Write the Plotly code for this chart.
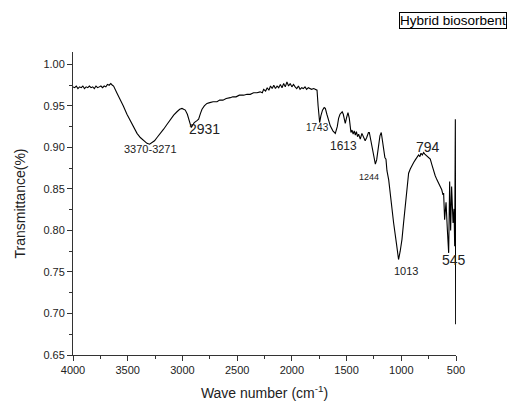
import plotly.graph_objects as go

wavenumber = [4000, 3985, 3970, 3955, 3940, 3925, 3910, 3895, 3880, 3865, 3850, 3835, 3820, 3805, 3790,
              3775, 3760, 3745, 3730, 3715, 3700, 3685, 3670, 3655, 3640, 3629, 3600, 3568, 3540, 3507,
              3475, 3446, 3415, 3385, 3355, 3324, 3300, 3278, 3255, 3232, 3200, 3172, 3140, 3111, 3080,
              3050, 3025, 3004, 2985, 2974, 2955, 2944, 2930, 2919, 2905, 2892, 2870, 2852, 2835, 2821,
              2800, 2776, 2750, 2720, 2684, 2660, 2630, 2600, 2563, 2540, 2510, 2480, 2441, 2410, 2380,
              2350, 2319, 2290, 2270, 2258, 2240, 2225, 2210, 2195, 2180, 2165, 2150, 2135, 2120, 2105,
              2090, 2075, 2060, 2045, 2030, 2015, 2000, 1985, 1970, 1955, 1940, 1925, 1910, 1895, 1880,
              1865, 1850, 1835, 1820, 1800, 1785, 1770, 1760, 1746, 1735, 1720, 1705, 1694, 1680, 1665,
              1649, 1625, 1603, 1585, 1573, 1560, 1551, 1540, 1530, 1520, 1512, 1500, 1487, 1475, 1460,
              1450, 1440, 1430, 1420, 1410, 1400, 1390, 1375, 1360, 1344, 1330, 1316, 1300, 1292, 1280,
              1265, 1250, 1237, 1225, 1210, 1195, 1183, 1170, 1160, 1150, 1140, 1131, 1115, 1100, 1085,
              1070, 1045, 1025, 1010, 994, 980, 963, 948, 933, 918, 902, 887, 872, 857, 842,
              830, 820, 808, 796, 785, 775, 765, 750, 735, 720, 704, 690, 674, 660, 643,
              630, 619, 613, 604, 591, 579, 567, 558, 549, 540, 527, 518, 512, 506, 503]

transmittance = [0.973, 0.972, 0.974, 0.971, 0.973, 0.972, 0.974, 0.971, 0.973, 0.972, 0.974, 0.972, 0.973, 0.971, 0.974,
                 0.972, 0.973, 0.974, 0.972, 0.974, 0.973, 0.976, 0.975, 0.977, 0.975, 0.974, 0.966, 0.958, 0.950, 0.940,
                 0.932, 0.924, 0.917, 0.912, 0.908, 0.905, 0.904, 0.906, 0.908, 0.912, 0.917, 0.922, 0.928, 0.934, 0.939,
                 0.943, 0.946, 0.947, 0.946, 0.945, 0.940, 0.934, 0.928, 0.924, 0.927, 0.930, 0.932, 0.934, 0.941, 0.946,
                 0.950, 0.953, 0.954, 0.955, 0.955, 0.957, 0.957, 0.959, 0.960, 0.961, 0.961, 0.963, 0.963, 0.964, 0.964,
                 0.966, 0.966, 0.967, 0.966, 0.970, 0.968, 0.972, 0.969, 0.974, 0.971, 0.975, 0.971, 0.974, 0.972, 0.976,
                 0.972, 0.977, 0.973, 0.979, 0.974, 0.977, 0.973, 0.976, 0.973, 0.971, 0.974, 0.970, 0.972, 0.971, 0.973,
                 0.970, 0.972, 0.971, 0.970, 0.971, 0.970, 0.969, 0.950, 0.930, 0.938, 0.945, 0.948, 0.947, 0.940, 0.932,
                 0.926, 0.920, 0.917, 0.925, 0.935, 0.940, 0.942, 0.943, 0.940, 0.935, 0.929, 0.936, 0.942, 0.935, 0.918,
                 0.921, 0.916, 0.920, 0.915, 0.919, 0.913, 0.916, 0.910, 0.917, 0.912, 0.908, 0.912, 0.918, 0.918, 0.910,
                 0.898, 0.886, 0.880, 0.885, 0.900, 0.914, 0.918, 0.905, 0.893, 0.888, 0.886, 0.872, 0.861, 0.841, 0.826,
                 0.809, 0.785, 0.765, 0.775, 0.789, 0.808, 0.829, 0.850, 0.869, 0.874, 0.879, 0.882, 0.885, 0.888, 0.891,
                 0.889, 0.893, 0.891, 0.894, 0.892, 0.891, 0.890, 0.888, 0.886, 0.879, 0.871, 0.866, 0.861, 0.857, 0.853,
                 0.849, 0.843, 0.845, 0.813, 0.834, 0.801, 0.773, 0.859, 0.800, 0.853, 0.809, 0.826, 0.781, 0.934, 0.687]

peak_labels = ["3370-3271", "2931", "1743", "1613", "1244", "794", "1013", "545"]
peak_label_x = [3293, 2800, 1770, 1530, 1292, 758, 956, 517]
peak_label_y = [0.898, 0.922, 0.924, 0.902, 0.865, 0.900, 0.751, 0.764]
peak_label_size = [11, 14, 10, 12, 9, 14, 11, 14]

legend_text = "Hybrid biosorbent"

FONT = "Arial, Liberation Sans, sans-serif"

fig = go.Figure()
fig.add_trace(go.Scatter(x=wavenumber, y=transmittance, mode="lines",
                         line=dict(color="black", width=1.1), showlegend=False))

for txt, xv, yv, sz in zip(peak_labels, peak_label_x, peak_label_y, peak_label_size):
    fig.add_annotation(x=xv, y=yv, xref="x", yref="y", text=txt, showarrow=False,
                       font=dict(family=FONT, size=sz, color="#222"))

fig.add_annotation(x=1.0, y=1.0, xref="paper", yref="paper", xanchor="right", yanchor="bottom",
                   xshift=51, yshift=23, text=legend_text, showarrow=False,
                   font=dict(family=FONT, size=13.5, color="black"),
                   bordercolor="black", borderwidth=1, borderpad=0, bgcolor="white")

axis_common = dict(showline=True, linecolor="#333", linewidth=1, showgrid=False, zeroline=False,
                   ticks="outside", ticklen=5, tickcolor="#333", tickwidth=1,
                   tickfont=dict(family=FONT, size=11, color="#222"),
                   mirror=False, automargin=False)

fig.update_xaxes(range=[4000, 500], dtick=500, tick0=500,
                 minor=dict(dtick=250, ticks="outside", ticklen=3, tickcolor="#333"),
                 title=dict(text="Wave number (cm<sup>-1</sup>)", font=dict(family=FONT, size=14, color="#222"),
                            standoff=12),
                 **axis_common)
fig.update_yaxes(range=[0.65, 1.015], dtick=0.05, tick0=0.65, tickformat=".2f",
                 minor=dict(dtick=0.025, ticks="outside", ticklen=3, tickcolor="#333"),
                 title=dict(text="Transmittance(%)", font=dict(family=FONT, size=14, color="#222"),
                            standoff=14),
                 **axis_common)

fig.update_layout(width=507, height=403, margin=dict(l=73, r=51, t=52, b=48),
                  plot_bgcolor="white", paper_bgcolor="white")

fig.write_html("out.html")
